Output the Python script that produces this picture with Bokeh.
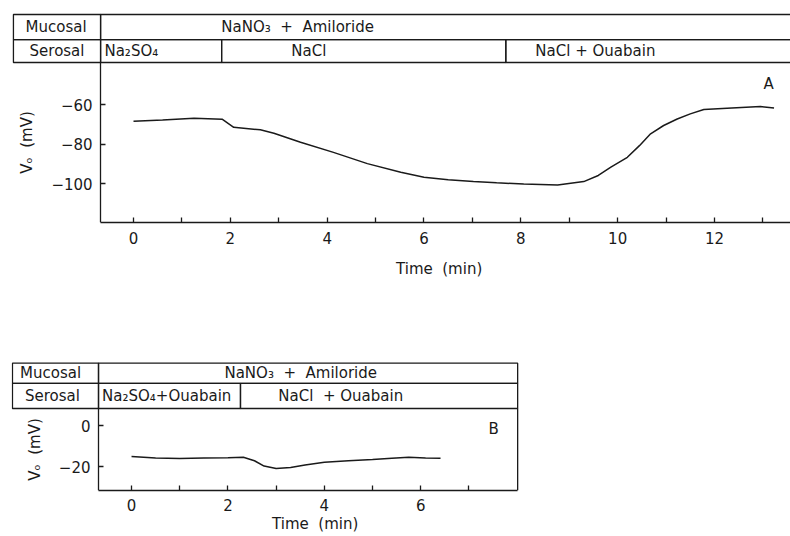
from bokeh.plotting import figure
from bokeh.models import FixedTicker, Range1d
from bokeh.layouts import column
from bokeh.core.properties import value
from bokeh.embed import file_html
from bokeh.resources import INLINE

# ---------------- data: panel A ----------------
time_a = [0.0, 0.6, 1.25, 1.83, 2.07, 2.62, 2.90, 3.45, 4.13, 4.83, 5.52, 6.0, 6.5,
          7.02, 7.5, 8.06, 8.76, 9.30, 9.6, 9.86, 10.20, 10.45, 10.68, 10.95, 11.23, 11.5,
          11.78, 12.26, 12.95, 13.23]
volt_a = [-68.5, -67.8, -66.9, -67.4, -71.5, -72.8, -74.5, -79.1, -84.2, -89.9, -94.3, -96.8, -98.0,
          -99.0, -99.6, -100.2, -100.7, -99.0, -95.9, -91.7, -86.7, -80.8, -74.8, -70.6, -67.3, -64.7,
          -62.5, -61.9, -61.0, -61.7]

# ---------------- data: panel B ----------------
time_b = [0.0, 0.5, 1.0, 1.5, 2.0, 2.32, 2.55, 2.75, 3.0, 3.3, 3.6, 4.0, 4.5, 5.0, 5.4, 5.75, 6.1, 6.41]
volt_b = [-15.1, -15.8, -16.1, -15.9, -15.7, -15.5, -17.2, -19.8, -21.0, -20.5, -19.3, -17.9, -17.2,
          -16.6, -16.0, -15.5, -15.9, -16.0]

# ticks
a_xticks = [0, 2, 4, 6, 8, 10, 12]
a_xminor = [1, 3, 5, 7, 9, 11, 13]
a_yticks = [-100, -80, -60]
b_xticks = [0, 2, 4, 6]
b_xminor = [1, 3, 5, 7]
b_yticks = [-20, 0]

NB = "\u00a0"
# solution table contents
row_names = ["Mucosal", "Serosal"]
a_mucosal = "NaNO₃" + NB * 2 + "+" + NB * 2 + "Amiloride"
a_serosal_labels = ["Na₂SO₄", "NaCl", "NaCl + Ouabain"]
a_serosal_changes = [1.82, 7.69]          # min
b_mucosal = "NaNO₃" + NB * 2 + "+" + NB * 2 + "Amiloride"
b_serosal_labels = ["Na₂SO₄+Ouabain", "NaCl" + NB * 2 + "+ Ouabain"]
b_serosal_changes = [2.26]                # min
x_title = "Time" + NB * 2 + "(min)"
y_title = "Vₒ" + NB * 2 + "(mV)"

FONT = "DejaVu Sans"
FS = "15px"
INK = "#1a1a1a"
LW = 1.3


def style_axes(p, xt, xm, yt, xb, yb, yloc):
    p.xaxis.ticker = FixedTicker(ticks=xt, minor_ticks=xm)
    p.yaxis.ticker = FixedTicker(ticks=yt, minor_ticks=[])
    p.xaxis.bounds = xb
    p.yaxis.bounds = yb
    p.yaxis.fixed_location = yloc
    for ax in (p.xaxis[0], p.yaxis[0]):
        ax.axis_line_color = INK
        ax.axis_line_width = LW
        ax.major_tick_line_color = INK
        ax.major_tick_line_width = LW
        ax.minor_tick_line_color = INK
        ax.minor_tick_line_width = LW
        ax.major_tick_in = 5
        ax.major_tick_out = 0
        ax.minor_tick_in = 5
        ax.minor_tick_out = 0
        ax.major_label_text_font = FONT
        ax.major_label_text_font_size = FS
        ax.major_label_text_color = INK
        ax.axis_label_text_font = FONT
        ax.axis_label_text_font_size = FS
        ax.axis_label_text_font_style = "normal"
        ax.axis_label_text_color = INK
    p.xgrid.visible = False
    p.ygrid.visible = False
    p.outline_line_color = None


def cells(p, lefts, rights, bottoms, tops):
    p.quad(left=lefts, right=rights, bottom=bottoms, top=tops,
           fill_alpha=0, line_color=INK, line_width=LW)


def texts(p, xs, ys, labels, align="center"):
    p.text(x=xs, y=ys, text=labels, text_align=align, text_baseline="middle",
           text_font=value(FONT), text_font_size=value(FS), text_color=INK)


# ---------------- panel A ----------------
a_left, a_right = -2.52, 13.57
pa = figure(width=790, height=300, output_backend="svg", toolbar_location=None,
            x_range=Range1d(a_left, a_right), y_range=Range1d(-119.7, -13.4),
            min_border_left=11, min_border_right=0, min_border_top=12, min_border_bottom=78,
            background_fill_color="white", border_fill_color="white")
a_axis_x = -0.68
style_axes(pa, a_xticks, a_xminor, a_yticks, (a_axis_x, a_right + 1.0), (-119.7, -38.7), a_axis_x)
# the axis title is centred on the canvas; leading padding moves it under the trace
pa.xaxis.axis_label = NB * 16 + x_title
pa.yaxis.axis_label = y_title
pa.xaxis.major_label_standoff = 9
pa.xaxis.axis_label_standoff = 13
pa.yaxis.major_label_standoff = 8
pa.yaxis.axis_label_standoff = 12
pa.line(time_a, volt_a, line_color=INK, line_width=1.5)

# table A
a_x0, a_x2 = -2.48, 14.2
a_y_top, a_y_mid, a_y_bot = -14.4, -27.1, -38.7
edges = [a_axis_x] + a_serosal_changes + [a_x2]
cells(pa,
      [a_x0, a_axis_x, a_x0] + edges[:-1],
      [a_axis_x, a_x2, a_axis_x] + edges[1:],
      [a_y_mid, a_y_mid, a_y_bot] + [a_y_bot] * len(a_serosal_labels),
      [a_y_top, a_y_top, a_y_mid] + [a_y_mid] * len(a_serosal_labels))
ym1 = (a_y_top + a_y_mid) / 2
ym2 = (a_y_mid + a_y_bot) / 2
texts(pa, [-1.60, -1.58, 3.39, 3.62, 9.54],
      [ym1, ym2, ym1, ym2, ym2],
      [row_names[0], row_names[1], a_mucosal, a_serosal_labels[1], a_serosal_labels[2]])
texts(pa, [-0.60], [ym2], [a_serosal_labels[0]], align="left")
texts(pa, [13.12], [-49.4], ["A"])

# ---------------- panel B ----------------
b_left, b_right = -2.49, 13.67
pb = figure(width=790, height=236, output_backend="svg", toolbar_location=None,
            x_range=Range1d(b_left, b_right), y_range=Range1d(-31.7, 31.7),
            min_border_left=11, min_border_right=0, min_border_top=60, min_border_bottom=46,
            background_fill_color="white", border_fill_color="white")
b_axis_x, b_end = -0.685, 8.01
style_axes(pb, b_xticks, b_xminor, b_yticks, (b_axis_x, b_end), (-31.7, 8.3), b_axis_x)
pb.xaxis.axis_label = x_title + NB * 36
pb.yaxis.axis_label = y_title
pb.xaxis.major_label_standoff = 8
pb.xaxis.axis_label_standoff = 1
pb.yaxis.major_label_standoff = 8
pb.yaxis.axis_label_standoff = 12
pb.line(time_b, volt_b, line_color=INK, line_width=1.5)

b_x0 = -2.47
b_y_top, b_y_mid, b_y_bot = 30.4, 20.5, 8.3
edges_b = [b_axis_x] + b_serosal_changes + [b_end]
cells(pb,
      [b_x0, b_axis_x, b_x0] + edges_b[:-1],
      [b_axis_x, b_end, b_axis_x] + edges_b[1:],
      [b_y_mid, b_y_mid, b_y_bot] + [b_y_bot] * len(b_serosal_labels),
      [b_y_top, b_y_top, b_y_mid] + [b_y_mid] * len(b_serosal_labels))
# right border of the trace box
pb.segment(x0=[b_end], y0=[-31.7], x1=[b_end], y1=[b_y_bot], line_color=INK, line_width=LW)
yb1 = (b_y_top + b_y_mid) / 2
yb2 = (b_y_mid + b_y_bot) / 2
texts(pb, [-1.68, -1.64, 3.51, 0.73, 4.34],
      [yb1, yb2, yb1, yb2, yb2],
      [row_names[0], row_names[1], b_mucosal, b_serosal_labels[0], b_serosal_labels[1]])
texts(pb, [7.51], [-1.95], ["B"])

layout = column(pa, pb, spacing=0)
open("out.html", "w").write(file_html(layout, INLINE))
